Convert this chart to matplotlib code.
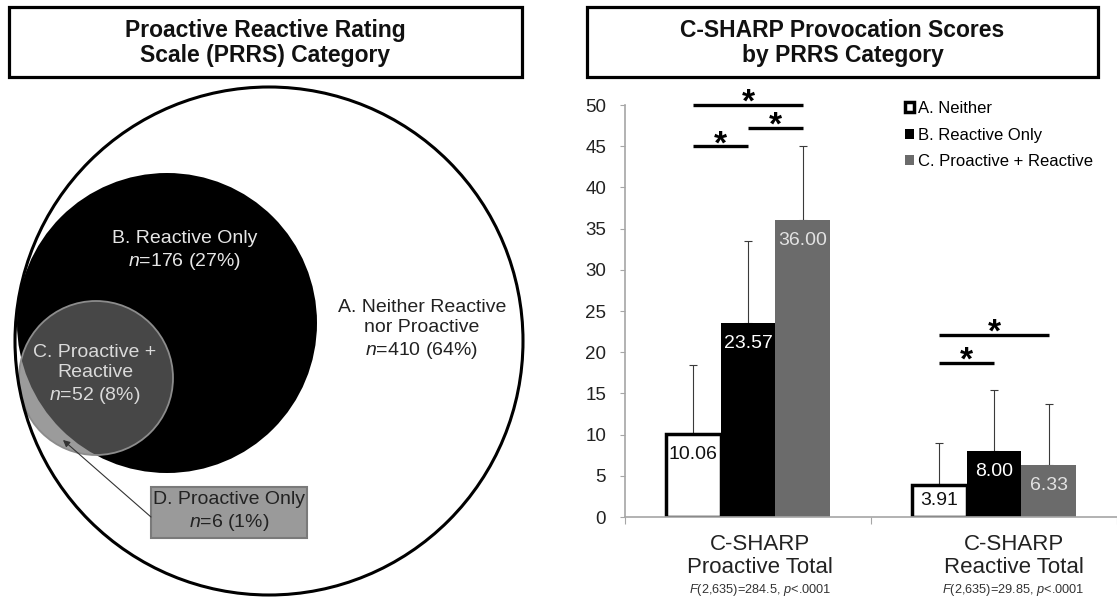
import numpy as np
import matplotlib
matplotlib.use("Agg")
import matplotlib.pyplot as plt
from matplotlib.patches import Circle, Rectangle

plt.rcParams["font.family"] = ["Liberation Sans", "DejaVu Sans"]
plt.rcParams["mathtext.fontset"] = "custom"
plt.rcParams["mathtext.rm"] = "Liberation Sans"
plt.rcParams["mathtext.it"] = "Liberation Sans:italic"

# ── data: left panel (PRRS category sizes)
group_names = ["A. Neither Reactive\nnor Proactive", "B. Reactive Only",
               "C. Proactive +\nReactive", "D. Proactive Only"]
group_n = [410, 176, 52, 6]
group_pct = [64, 27, 8, 1]

# ── data: right panel (C-SHARP scores)
measures = ["C-SHARP\nProactive Total", "C-SHARP\nReactive Total"]
ftests = ["$F$(2,635)=284.5, $p$<.0001", "$F$(2,635)=29.85, $p$<.0001"]
series = ["A. Neither", "B. Reactive Only", "C. Proactive + Reactive"]
mean_a = [10.06, 3.91]
mean_b = [23.57, 8.00]
mean_c = [36.00, 6.33]
sd_a = [8.4, 5.1]
sd_b = [9.9, 7.4]
sd_c = [9.0, 7.4]
# (measure, group i, group j, bar height)
sig_pairs = [(0, 0, 2, 50.0), (0, 1, 2, 47.2), (0, 0, 1, 45.0),
             (1, 0, 2, 22.1), (1, 0, 1, 18.7)]

titles = ["Proactive Reactive Rating\nScale (PRRS) Category",
          "C-SHARP Provocation Scores\nby PRRS Category"]

W, H = 1117, 603
fig = plt.figure(figsize=(W / 100, H / 100), dpi=100)

# overlay in pixel coordinates for boxes and the venn diagram
ov = fig.add_axes([0, 0, 1, 1])
ov.set_xlim(0, W)
ov.set_ylim(H, 0)
ov.axis("off")

for (x0, x1), title in zip([(9, 522), (587, 1098)], titles):
    ov.add_patch(Rectangle((x0, 7), x1 - x0, 70, fill=False, lw=2.3, ec="black"))
    ov.text((x0 + x1) / 2, 43, title, ha="center", va="center", fontsize=16.5,
            fontweight="bold", linespacing=1.1, color="#111111")

# venn
ov.add_patch(Circle((269, 341), 254, fc="white", ec="none", zorder=1))
b_circ = Circle((167, 323), 150, fc="black", ec="none", zorder=2)
ov.add_patch(b_circ)
ov.add_patch(Circle((96, 378), 77, fc="#9b9b9b", ec="none", zorder=3))
c_in = Circle((96, 378), 77, fc="#474747", ec="none", zorder=4)
ov.add_patch(c_in)
c_in.set_clip_path(b_circ)
ov.add_patch(Circle((96, 378), 77, fill=False, ec="#8c8c8c", lw=1.3, zorder=5))
ov.add_patch(Circle((269, 341), 254, fill=False, ec="black", lw=2.2, zorder=6))
ov.add_patch(Rectangle((151, 487), 156, 51, fc="#9a9a9a", ec="#7a7a7a", lw=1.5, zorder=6))
ov.annotate("", xy=(63, 440), xytext=(151, 517), zorder=7,
            arrowprops=dict(arrowstyle="-|>", color="#333333", lw=0.8,
                            mutation_scale=10, shrinkA=0, shrinkB=0))

label_pos = [(422, 330), (185, 251), (95, 375), (229, 512)]
label_col = ["#222222", "#e6e6e6", "#dadada", "#222222"]
for name, n, p, (lx, ly), col in zip(group_names, group_n, group_pct, label_pos, label_col):
    ov.text(lx, ly, f"{name}\n$n$={n} ({p}%)", ha="center", va="center",
            fontsize=14, color=col, linespacing=1.22, zorder=8)

# ── bar chart
ax = fig.add_axes([625 / W, (H - 517) / H, (W - 625) / W, (517 - 105) / H])
ax.patch.set_alpha(0)
x = np.arange(len(measures))
w = 0.222
offsets = [-w, 0, w]
means = [mean_a, mean_b, mean_c]
sds = [sd_a, sd_b, sd_c]
styles = [dict(color="white", edgecolor="black", linewidth=2.5),
          dict(color="black", edgecolor="black", linewidth=0),
          dict(color="#6b6b6b", edgecolor="#6b6b6b", linewidth=0)]
val_col = ["#111111", "white", "#e2e2e2"]

handles = []
for off, m, s, st, vc in zip(offsets, means, sds, styles, val_col):
    ax.errorbar(x + off, m, yerr=[np.zeros(len(m)), s], fmt="none", ecolor="#3a3a3a",
                elinewidth=0.8, capsize=3, capthick=0.8, zorder=1)
    bars = ax.bar(x + off, m, width=w, zorder=2, **st)
    handles.append(bars)
    for xi, v in zip(x + off, m):
        ax.text(xi, max(v - 2.5, v / 2), f"{v:.2f}", ha="center", va="center",
                fontsize=14, color=vc, zorder=3)

for mi, gi, gj, h in sig_pairs:
    x0, x1 = mi + offsets[gi], mi + offsets[gj]
    ax.plot([x0, x1], [h, h], color="black", lw=2.4, solid_capstyle="butt", clip_on=False)
    ax.annotate("*", xy=((x0 + x1) / 2, h), xytext=(0, -5), textcoords="offset points",
                ha="center", va="baseline", fontsize=24, fontweight="bold", annotation_clip=False)

ax.set_ylim(0, 50)
ax.set_xlim(-0.5, 1.46)
ax.set_yticks(range(0, 51, 5))
ax.set_xticks([-0.5, 0.5, 1.5])
ax.set_xticklabels([])
for sp in ["top", "right"]:
    ax.spines[sp].set_visible(False)
for sp in ["left", "bottom"]:
    ax.spines[sp].set_color("#a6a6a6")
    ax.spines[sp].set_linewidth(1.2)
ax.tick_params(axis="y", direction="out", length=3.6, color="#a6a6a6",
               labelsize=13.5, labelcolor="#222222", pad=10)
ax.tick_params(axis="x", direction="out", length=5, color="#a6a6a6")

label_shift = [0.05, 1.08]
for xs, name, ft in zip(label_shift, measures, ftests):
    ax.annotate(name, xy=(xs, 0), xycoords=("data", "axes fraction"), xytext=(0, -39 * 0.72),
                textcoords="offset points", ha="center", va="center", fontsize=16,
                linespacing=1.15, color="#222222", annotation_clip=False)
    ax.annotate(ft, xy=(xs, 0), xycoords=("data", "axes fraction"), xytext=(0, -73 * 0.72),
                textcoords="offset points", ha="center", va="center", fontsize=9.2,
                color="#333333", annotation_clip=False)

ax.legend(handles, series, loc="upper left", bbox_to_anchor=(905 / W, 1 - 101 / H),
          bbox_transform=fig.transFigure, frameon=False, fontsize=12,
          handlelength=0.55, handleheight=0.55, handletextpad=0.2,
          labelspacing=0.7, borderpad=0, borderaxespad=0)

fig.savefig("out.png", dpi=100)
plt.close(fig)
